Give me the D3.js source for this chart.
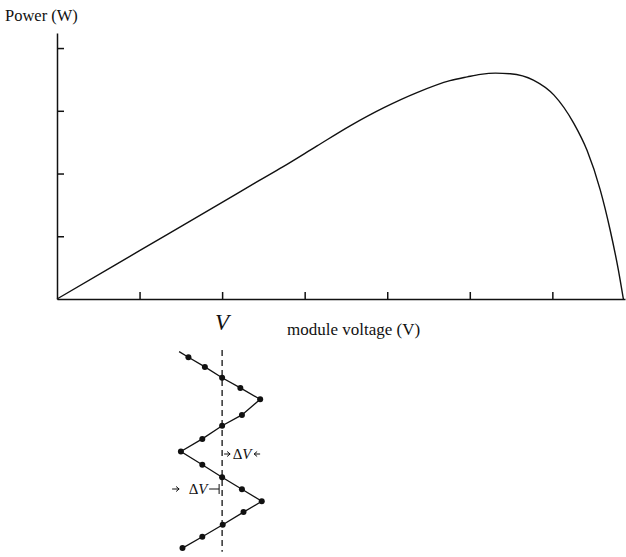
<!DOCTYPE html>
<html>
<head>
<meta charset="utf-8">
<script src="https://cdn.jsdelivr.net/npm/d3@7"></script>
<style>
  html, body { margin: 0; padding: 0; background: #fff; }
  svg { display: block; }
  text { font-family: "Liberation Serif", "Times New Roman", serif; fill: #111; }
</style>
</head>
<body>
<svg id="chart" width="626" height="557"></svg>
<script>
// P-V characteristic of a PV module (arbitrary units)
const moduleVoltage = [0, 1, 2, 2.4, 2.74, 3.15, 3.55, 3.96, 4.36, 4.76, 4.97, 5.13, 5.31, 5.49, 5.77, 6.02, 6.26, 6.42, 6.58, 6.70, 6.80, 6.86];
const modulePower   = [0, 0.77, 1.54, 1.85, 2.11, 2.44, 2.76, 3.05, 3.29, 3.48, 3.54, 3.58, 3.60, 3.59, 3.49, 3.25, 2.80, 2.37, 1.74, 1.10, 0.46, 0];

const xTicks = [1, 2, 3, 4, 5, 6];
const yTicks = [1, 2, 3, 4];

// Operating voltage and the perturb-and-observe step
const operatingVoltage = 2;
const deltaV = 0.24;
// Perturbation sequence: offset from V in multiples of ΔV, and time step
// (the first entry is the lead-in of the trace, drawn without a dot)
const perturbOffset = [-2.17, -1.7, -0.87, 0, 0.92, 1.92, 1.0, 0, -1, -2.08, -1, 0, 1, 2, 1.08, 0.03, -1, -2];
const perturbTime   = [-0.47, 0, 0.8, 1.7, 2.55, 3.5, 4.8, 5.7, 6.8, 7.85, 8.95, 10, 11, 12, 12.9, 13.95, 14.95, 15.9];

const svg = d3.select("#chart");

const x = d3.scaleLinear().domain([0, 6.88]).range([57, 625]);
const y = d3.scaleLinear().domain([0, 4.24]).range([299, 33]);
const t = d3.scaleLinear().domain([0, 16]).range([357.3, 549.3]);

// Axes with inward ticks and no labels
const xAxis = svg.append("g")
  .attr("transform", `translate(0,${y(0)})`)
  .call(d3.axisBottom(x).tickValues(xTicks).tickSize(-7).tickSizeOuter(0).tickFormat(""));
const yAxis = svg.append("g")
  .attr("transform", `translate(${x(0)},0)`)
  .call(d3.axisLeft(y).tickValues(yTicks).tickSize(-7).tickSizeOuter(0).tickFormat(""));
[xAxis, yAxis].forEach(g => {
  g.selectAll("path, line").attr("stroke", "#111").attr("stroke-width", 1.5);
});

// Power curve
const curve = d3.line()
  .x(d => x(d[0]))
  .y(d => y(d[1]))
  .curve(d3.curveMonotoneX);
svg.append("path")
  .datum(d3.zip(moduleVoltage, modulePower))
  .attr("d", curve)
  .attr("fill", "none")
  .attr("stroke", "#111")
  .attr("stroke-width", 1.4);

// Axis titles
svg.append("text").attr("x", 5).attr("y", 21).attr("font-size", 16.5).text("Power (W)");
svg.append("text").attr("x", 287).attr("y", 335).attr("font-size", 17).text("module voltage (V)");
svg.append("text")
  .attr("x", x(operatingVoltage)).attr("y", 330)
  .attr("text-anchor", "middle")
  .attr("font-size", 23).attr("font-style", "italic")
  .text("V");

// Operating point reference line
svg.append("line")
  .attr("x1", x(operatingVoltage)).attr("x2", x(operatingVoltage))
  .attr("y1", t(-0.6)).attr("y2", t(16.2))
  .attr("stroke", "#111").attr("stroke-width", 1.3)
  .attr("stroke-dasharray", "6,4");

// Perturbation trace
const trace = d3.zip(perturbOffset, perturbTime);
const px = d => x(operatingVoltage + d[0] * deltaV);
svg.append("path")
  .datum(trace)
  .attr("d", d3.line().x(px).y(d => t(d[1])))
  .attr("fill", "none")
  .attr("stroke", "#111")
  .attr("stroke-width", 1.3);
svg.selectAll("circle.step")
  .data(trace.slice(1))
  .join("circle")
  .attr("class", "step")
  .attr("cx", px).attr("cy", d => t(d[1]))
  .attr("r", 3)
  .attr("fill", "#111");

// ΔV step annotations
function stepLabel(cx, cy) {
  const g = svg.append("g");
  const txt = g.append("text").attr("x", cx).attr("y", cy + 5)
    .attr("text-anchor", "middle").attr("font-size", 15);
  txt.append("tspan").text("Δ");
  txt.append("tspan").attr("font-style", "italic").text("V");
  return g;
}
const vx = x(operatingVoltage);
const mark = (g, d) => g.append("path").attr("d", d)
  .attr("stroke", "#111").attr("fill", "none").attr("stroke-width", 1);
// upper: between the reference line and the next step to the right
const up = stepLabel(vx + 20, 454);
mark(up, `M${vx + 2},${454} h6 M${vx + 5},${451.5} l3,2.5 l-3,2.5`);
mark(up, `M${vx + 32},${454} h6 M${vx + 35},${451.5} l-3,2.5 l3,2.5`);
// lower: between the previous step to the left and the reference line
const lo = stepLabel(vx - 24, 489);
mark(lo, `M${vx - 50},${489} h7 M${vx - 46},${486.5} l3,2.5 l-3,2.5`);
mark(lo, `M${vx - 13},${489} h10 M${vx - 3},${484} v10`);
</script>
</body>
</html>
